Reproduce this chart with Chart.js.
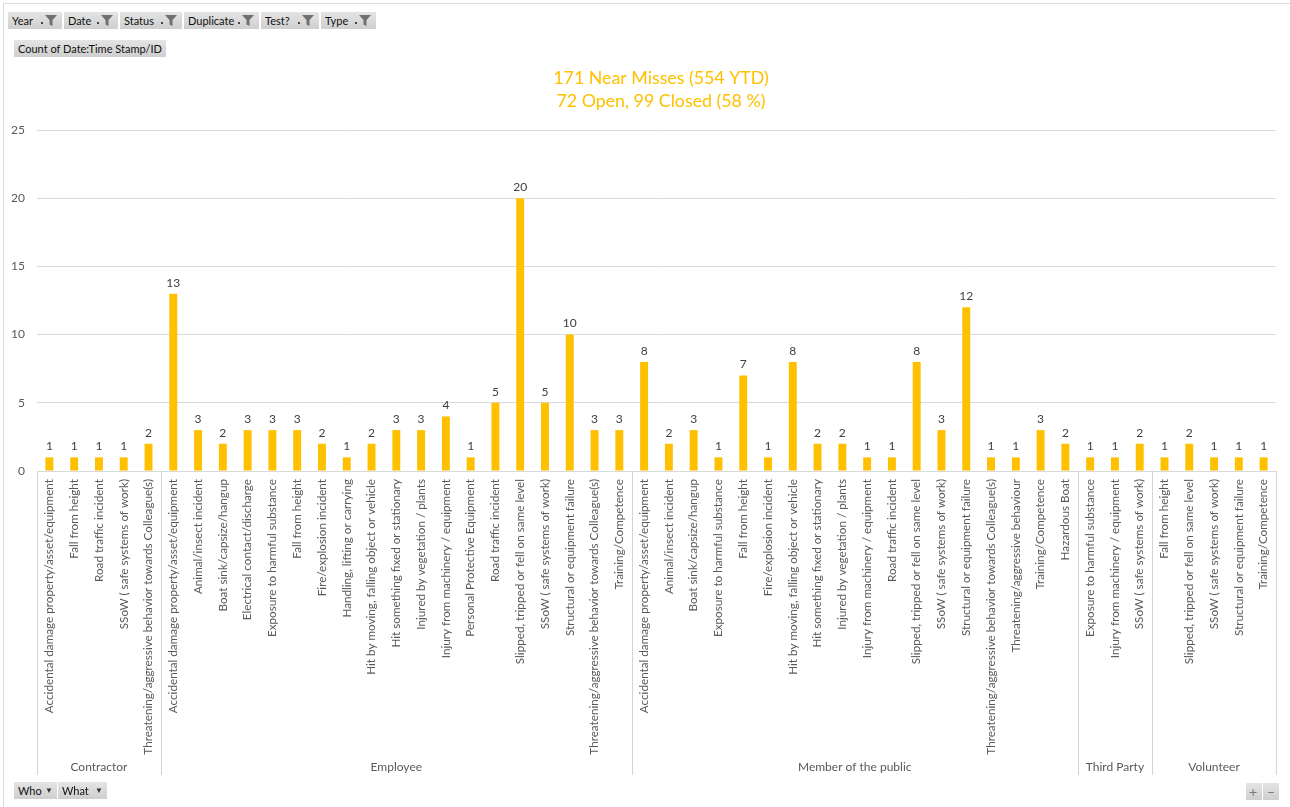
<!DOCTYPE html>
<html>
<head>
<meta charset="utf-8">
<script src="https://cdn.jsdelivr.net/npm/chart.js@4.4.1/dist/chart.umd.min.js"></script>
<style>
  html,body{margin:0;padding:0;background:#fff;width:1290px;height:807px;overflow:hidden;font-family:Lato,"Liberation Sans",sans-serif;}
  #wrap{position:absolute;left:0;top:0;width:1290px;height:807px;}
  #frame{position:absolute;left:3px;top:3px;width:1290px;height:810px;border-top:1px solid #dcdcdc;border-left:1px solid #dcdcdc;pointer-events:none;}
  canvas{position:absolute;left:0;top:0;}
  .btn{position:absolute;height:17px;background:linear-gradient(#e4e4e4,#cfcfcf);font-size:11px;color:#111;line-height:17px;padding-left:4px;box-sizing:border-box;white-space:nowrap;}
  .btn svg{position:absolute;right:3px;top:2px;}
  .dd{position:absolute;font-size:8px;color:#333;}
</style>
</head>
<body>
<div id="wrap">
  <canvas id="c" width="1290" height="807"></canvas>
  <div id="frame"></div>
  <div id="filters"></div>
  <div class="btn" style="left:14px;top:40px;width:152px;">Count of Date:Time Stamp/ID</div>
  <div class="btn" style="left:14px;top:782px;width:43px;">Who <span class="dd" style="left:31px;top:0">&#9660;</span></div>
  <div class="btn" style="left:58px;top:782px;width:49px;">What <span class="dd" style="left:37px;top:0">&#9660;</span></div>
  <div class="btn" style="left:1246px;top:783px;width:16px;padding-left:3px;color:#777;font-size:14px;">+</div>
  <div class="btn" style="left:1263px;top:783px;width:16px;padding-left:4px;color:#777;font-size:14px;">&#8211;</div>
</div>
<script>
// ---------- DATA ----------
const groups = ['Contractor', 'Employee', 'Member of the public', 'Third Party', 'Volunteer'];
const groupSizes = [5, 19, 18, 3, 5];
const categories = [
  // Contractor
  'Accidental damage property/asset/equipment', 'Fall from height', 'Road traffic incident',
  'SSoW ( safe systems of work)', 'Threatening/aggressive behavior towards Colleague(s)',
  // Employee
  'Accidental damage property/asset/equipment', 'Animal/insect incident', 'Boat sink/capsize/hangup',
  'Electrical contact/discharge', 'Exposure to harmful substance', 'Fall from height',
  'Fire/explosion incident', 'Handling, lifting or carrying', 'Hit by moving, falling object or vehicle',
  'Hit something fixed or stationary', 'Injured by vegetation / plants', 'Injury from machinery / equipment',
  'Personal Protective Equipment', 'Road traffic incident', 'Slipped, tripped or fell on same level',
  'SSoW ( safe systems of work)', 'Structural or equipment failure',
  'Threatening/aggressive behavior towards Colleague(s)', 'Training/Competence',
  // Member of the public
  'Accidental damage property/asset/equipment', 'Animal/insect incident', 'Boat sink/capsize/hangup',
  'Exposure to harmful substance', 'Fall from height', 'Fire/explosion incident',
  'Hit by moving, falling object or vehicle', 'Hit something fixed or stationary',
  'Injured by vegetation / plants', 'Injury from machinery / equipment', 'Road traffic incident',
  'Slipped, tripped or fell on same level', 'SSoW ( safe systems of work)', 'Structural or equipment failure',
  'Threatening/aggressive behavior towards Colleague(s)', 'Threatening/aggressive behaviour',
  'Training/Competence', 'Hazardous Boat',
  // Third Party
  'Exposure to harmful substance', 'Injury from machinery / equipment', 'SSoW ( safe systems of work)',
  // Volunteer
  'Fall from height', 'Slipped, tripped or fell on same level', 'SSoW ( safe systems of work)',
  'Structural or equipment failure', 'Training/Competence'
];
const counts = [
  1, 1, 1, 1, 2,
  13, 3, 2, 3, 3, 3, 2, 1, 2, 3, 3, 4, 1, 5, 20, 5, 10, 3, 3,
  8, 2, 3, 1, 7, 1, 8, 2, 2, 1, 1, 8, 3, 12, 1, 1, 3, 2,
  1, 1, 2,
  1, 2, 1, 1, 1
];
const yTicks = [0, 5, 10, 15, 20, 25];
const titleLines = ['171 Near Misses (554 YTD)', '72 Open, 99 Closed (58 %)'];
const filterNames = ['Year', 'Date', 'Status', 'Duplicate', 'Test?', 'Type'];
const filterWidths = [54, 54, 62, 75, 58, 55];

// ---------- filter buttons ----------
(function(){
  const host = document.getElementById('filters');
  let x = 8;
  filterNames.forEach((n, i) => {
    const d = document.createElement('div');
    d.className = 'btn';
    d.style.left = x + 'px'; d.style.top = '12px'; d.style.width = filterWidths[i] + 'px';
    d.innerHTML = n + '<svg width="20" height="13" viewBox="0 0 20 13"><rect x="2" y="8" width="2" height="2" fill="#444"/><path d="M6 1 H18 L13.5 6 V12 L10.5 10.5 V6 Z" fill="#707070"/></svg>';
    host.appendChild(d);
    x += filterWidths[i] + 2;
  });
})();

// ---------- plugins ----------
const FONT = 'Lato, "Liberation Sans", sans-serif';
const titleText = {
  id: 'titleText',
  afterDraw(chart) {
    const ctx = chart.ctx;
    ctx.save();
    ctx.font = '17.8px ' + FONT;
    ctx.fillStyle = '#FFC000';
    ctx.textAlign = 'center';
    ctx.textBaseline = 'middle';
    titleLines.forEach((t, i) => ctx.fillText(t, 661, 78 + i * 23));
    ctx.restore();
  }
};
const valueLabels = {
  id: 'valueLabels',
  afterDatasetsDraw(chart) {
    const ctx = chart.ctx;
    const meta = chart.getDatasetMeta(0);
    ctx.save();
    ctx.font = '12px ' + FONT;
    ctx.fillStyle = '#404040';
    ctx.textAlign = 'center';
    ctx.textBaseline = 'bottom';
    meta.data.forEach((el, i) => {
      ctx.fillText(String(counts[i]), el.x, el.y - 5);
    });
    ctx.restore();
  }
};
const groupAxis = {
  id: 'groupAxis',
  afterDraw(chart) {
    const ctx = chart.ctx;
    const xs = chart.scales.x;
    const area = chart.chartArea;
    const bottom = 775;
    ctx.save();
    ctx.strokeStyle = '#d4d4d4';
    ctx.lineWidth = 1;
    ctx.font = '12px ' + FONT;
    ctx.fillStyle = '#595959';
    ctx.textAlign = 'center';
    ctx.textBaseline = 'middle';
    let start = 0;
    const edges = [area.left];
    groupSizes.forEach((n, gi) => {
      const end = start + n;
      let xr;
      if (end >= categories.length) xr = area.right;
      else xr = (xs.getPixelForValue(end - 1) + xs.getPixelForValue(end)) / 2;
      edges.push(xr);
      const xl = edges[gi];
      ctx.fillText(groups[gi], (xl + xr) / 2, 767);
      start = end;
    });
    edges.forEach(x => {
      const px = Math.round(x) + 0.5;
      ctx.beginPath();
      ctx.moveTo(px, area.bottom);
      ctx.lineTo(px, bottom);
      ctx.stroke();
    });
    ctx.restore();
  }
};

new Chart(document.getElementById('c'), {
  type: 'bar',
  data: {
    labels: categories,
    datasets: [{
      data: counts,
      backgroundColor: '#FFC000',
      borderWidth: 0,
      barPercentage: 0.32,
      categoryPercentage: 1.0
    }]
  },
  options: {
    responsive: false,
    animation: false,
    devicePixelRatio: 1,
    layout: { padding: { left: 0, right: 14, top: 130, bottom: 0 } },
    plugins: {
      legend: { display: false },
      tooltip: { enabled: false },
      title: { display: false }
    },
    scales: {
      x: {
        grid: { display: false },
        border: { display: false },
        ticks: {
          autoSkip: false,
          maxRotation: 90,
          minRotation: 90,
          color: '#595959',
          font: { family: FONT, size: 11.7 },
          padding: 0
        },
        afterFit(s) { s.height = 807 - 471; }
      },
      y: {
        min: 0,
        max: 25,
        afterBuildTicks(s) { s.ticks = yTicks.map(v => ({ value: v })); },
        grid: { color: '#d9d9d9', drawTicks: false },
        border: { display: false },
        ticks: { color: '#595959', font: { family: FONT, size: 12 }, padding: 12 },
        afterFit(s) { s.width = 37; }
      }
    }
  },
  plugins: [titleText, valueLabels, groupAxis]
});
</script>
</body>
</html>
